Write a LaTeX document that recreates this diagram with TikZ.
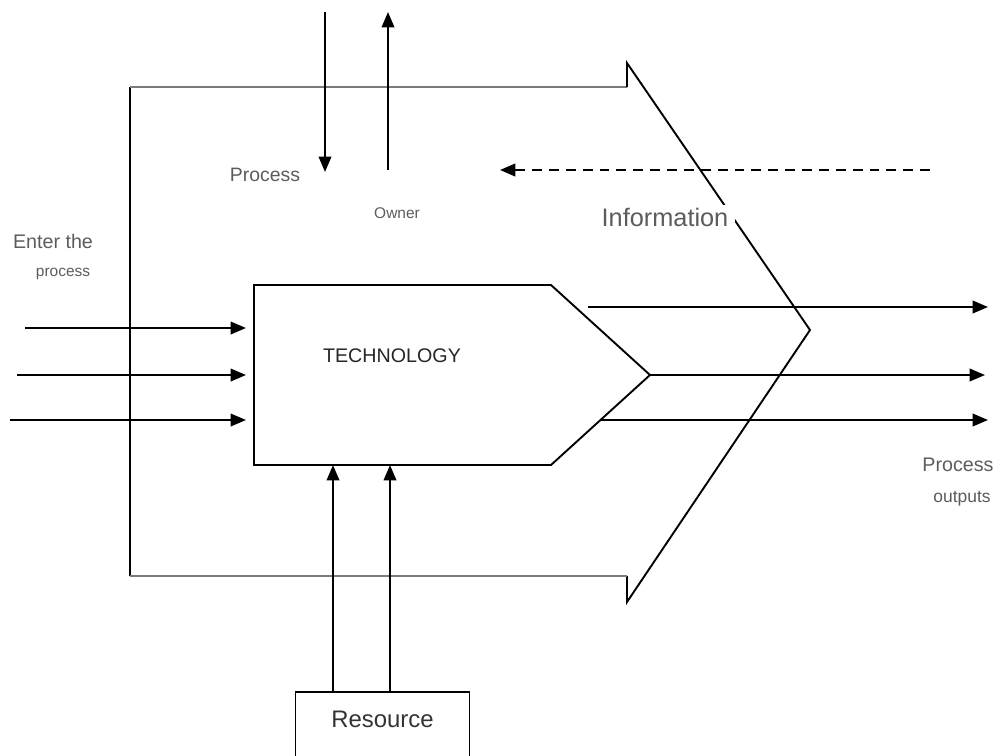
\documentclass[tikz,border=0pt]{standalone}
\usepackage{fontspec}
\setmainfont{Liberation Sans}
\usetikzlibrary{arrows.meta, positioning}
\usepackage{xcolor}
\definecolor{txtgray}{HTML}{5C5C5C}
\definecolor{edgegray}{HTML}{7A7A7A}
\tikzset{
  flow/.style={draw, line width=1.35pt, -{Triangle[length=11pt,width=9pt]}},
  outline/.style={draw, line width=1.35pt},
  lbl/.style={text=txtgray, inner sep=1pt},
}
\newcommand{\fsz}[1]{\fontsize{#1}{#1}\selectfont}

\begin{document}
\begin{tikzpicture}[x=0.025cm, y=-0.025cm]
\path[use as bounding box, clip] (0,0) rectangle (1008,756);

% outer process arrow
\coordinate (o1) at (130,87);
\coordinate (o2) at (627,87);
\coordinate (o3) at (627,63);
\coordinate (otip) at (810,330);
\coordinate (o4) at (627,602);
\coordinate (o5) at (627,576);
\coordinate (o6) at (130,576);
\draw[outline] (o6) -- (o1);
\draw[outline, edgegray, line width=1.9pt] (o1) -- (o2);
\draw[outline] (o2) -- (o3) -- (otip) -- (o4) -- (o5);
\draw[outline, edgegray, line width=1.9pt] (o5) -- (o6);

% technology block
\coordinate (t1) at (254,285);
\coordinate (t2) at (551,285);
\coordinate (ttip) at (650,375);
\coordinate (t3) at (551,465);
\coordinate (t4) at (254,465);
\draw[outline] (t1) -- (t2) -- (ttip) -- (t3) -- (t4) -- cycle;
\node[inner sep=1pt, text=black!85] (tech) at (392,356) {\fsz{14pt}TECHNOLOGY};

% labels
\node[lbl] (proc) at (265,175) {\fsz{13.8pt}Process};
\node[lbl] (owner) at (397,213) {\fsz{11pt}Owner};
\node[lbl, fill=white, inner xsep=5pt, inner ysep=2pt] (info) at (665,217) {\fsz{18pt}Information};
\node[lbl] (enter) at (53,241) {\fsz{14pt}Enter the};
\node[lbl] (enter2) at (63,274) {\fsz{11pt}process};
\node[lbl] (outp) at (958,465) {\fsz{14pt}Process};
\node[lbl] (outp2) at (962,499) {\fsz{12.4pt}outputs};

% resource
\node[draw, line width=1.35pt, anchor=north, minimum width=4.35cm, inner sep=0pt,
      text height=0.89cm, text depth=1.5cm, text=black!80] (res) at (382.5,691) {\fsz{17pt}Resource};

% owner arrows
\coordinate (ow1) at (325,12);
\coordinate (ow2) at (325,172);
\coordinate (ow3) at (388,170);
\coordinate (ow4) at (388,12);
\draw[flow] (ow1) -- (ow2);
\draw[flow] (ow3) -- (ow4);

% information feedback
\coordinate (fb1) at (930,170);
\coordinate (fb2) at (500,170);
\draw[flow, dash pattern=on 7pt off 5pt, line width=1.7pt] (fb1) -- (fb2);

% inputs
\coordinate (in1) at (25,328);
\coordinate (in2) at (17,375);
\coordinate (in3) at (10,420);
\draw[flow] (in1) -- (246,328);
\draw[flow] (in2) -- (246,375);
\draw[flow] (in3) -- (246,420);

% outputs
\coordinate (out1) at (588,307);
\coordinate (out3) at (600,420);
\draw[flow] (out1) -- (988,307);
\draw[flow] (ttip) -- (985,375);
\draw[flow] (out3) -- (988,420);

% resource arrows
\coordinate (rb1) at (333,465);
\coordinate (rb2) at (390,465);
\draw[flow] (res.north -| rb1) -- (rb1);
\draw[flow] (res.north -| rb2) -- (rb2);
\end{tikzpicture}
\end{document}
